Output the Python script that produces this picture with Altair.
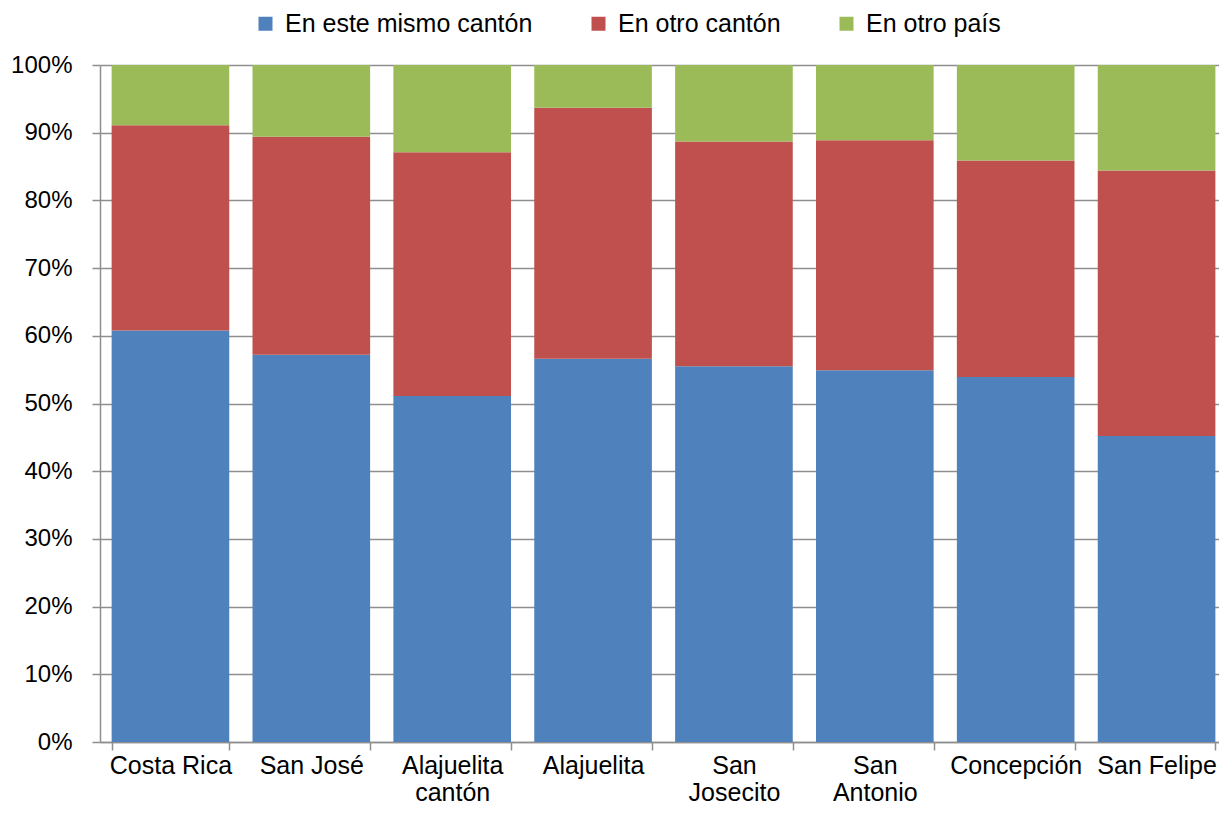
import altair as alt
import pandas as pd

categories = ["Costa Rica", "San José", "Alajuelita\ncantón", "Alajuelita",
              "San\nJosecito", "San\nAntonio", "Concepción", "San Felipe"]
series = ["En este mismo cantón", "En otro cantón", "En otro país"]
colors = ["#4F81BD", "#C0504D", "#9BBB59"]

mismo_canton = [60.8, 57.2, 51.1, 56.6, 55.5, 54.9, 53.9, 45.2]
otro_canton = [30.3, 32.2, 36.0, 37.1, 33.2, 34.0, 32.0, 39.2]
otro_pais = [8.9, 10.6, 12.9, 6.3, 11.3, 11.1, 14.1, 15.6]

rows = []
for s_idx, (s, vals) in enumerate(zip(series, [mismo_canton, otro_canton, otro_pais])):
    for c, v in zip(categories, vals):
        rows.append({"cat": c, "serie": s, "valor": v, "orden": s_idx})
df = pd.DataFrame(rows)

FONT = "Liberation Sans"
GRAY = "#8e8e8e"

chart = alt.Chart(df).mark_bar().encode(
    x=alt.X("cat:N", sort=categories, title=None,
            scale=alt.Scale(paddingInner=0.165, paddingOuter=0.0825),
            axis=alt.Axis(labelAngle=0, tickBand="extent", tickSize=8,
                          labelExpr="split(datum.label, '\\n')",
                          labelLineHeight=27, labelPadding=3,
                          labelFontSize=25, labelColor="#000000",
                          labelFont=FONT, labelLimit=300,
                          domainColor=GRAY, domainWidth=1.5,
                          tickColor=GRAY, tickWidth=1.5, grid=False)),
    y=alt.Y("valor:Q", stack="zero", title=None,
            scale=alt.Scale(domain=[0, 100], nice=False),
            axis=alt.Axis(values=list(range(0, 101, 10)), labelExpr="datum.value + '%'",
                          tickSize=8, labelPadding=20, labelFontSize=24,
                          labelColor="#000000", labelFont=FONT,
                          domainColor=GRAY, domainWidth=1.5,
                          tickColor=GRAY, tickWidth=1.5,
                          gridColor=GRAY, gridWidth=1.5)),
    color=alt.Color("serie:N", sort=series, title=None,
                    scale=alt.Scale(domain=series, range=colors),
                    legend=alt.Legend(orient="none", direction="horizontal",
                                      legendX=153, legendY=-54,
                                      symbolType="square", symbolSize=196,
                                      symbolStrokeWidth=0, labelFontSize=25,
                                      labelFont=FONT, labelColor="#000000",
                                      labelLimit=400,
                                      columnPadding=53, labelOffset=7)),
    order=alt.Order("orden:Q", sort="ascending"),
).properties(
    width=1127, height=677,
    autosize=alt.AutoSizeParams(type="none"),
    padding={"left": 92, "top": 57, "right": -8, "bottom": 64},
).configure_view(stroke=None).configure_axis(labelFont=FONT)

chart.save("out.html", embed_options={"renderer": "svg", "actions": False})
